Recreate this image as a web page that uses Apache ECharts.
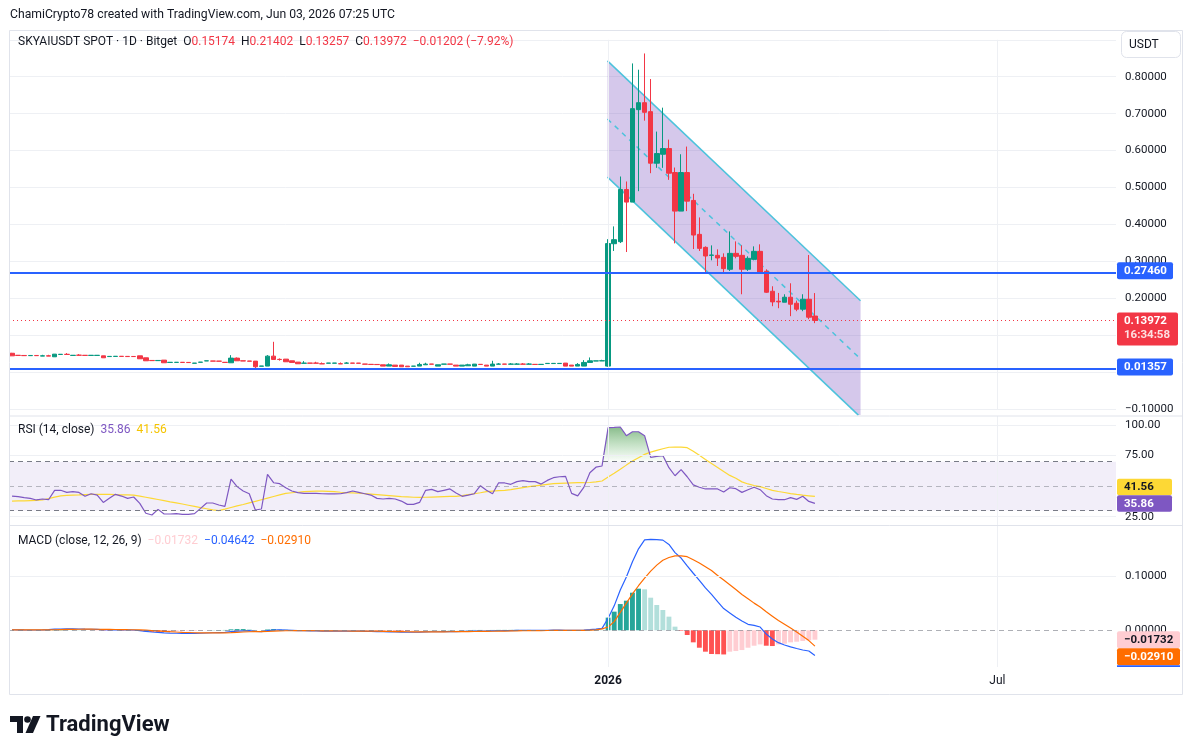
<!DOCTYPE html>
<html>
<head>
<meta charset="utf-8">
<script src="https://cdn.jsdelivr.net/npm/echarts@6/dist/echarts.min.js"></script>
<style>
  html, body { margin: 0; padding: 0; background: #fff; }
  #chart { width: 1195px; height: 755px; }
</style>
</head>
<body>
<div id="chart"></div>
<script>
const FONT = 'Roboto, "Noto Sans", sans-serif'
const INK = '#131722'
const SLOTS = 182 // bars that fit the visible time range (incl. empty right side)

// time axis labels (bar index -> text)
const tickIndex = [98, 162]
const tickText = ['2026', 'Jul']

// daily candles [open, close, low, high]
const candles = [
  [0.051, 0.044, 0.044, 0.052], [0.0455, 0.045, 0.045, 0.0455], [0.045, 0.0445, 0.0445, 0.045], [0.0445, 0.045, 0.0445, 0.045],
  [0.045, 0.0445, 0.0445, 0.045], [0.0433, 0.0441, 0.0433, 0.0468], [0.0441, 0.0433, 0.0433, 0.0468], [0.0414, 0.0486, 0.0414, 0.0486],
  [0.0477, 0.0482, 0.0477, 0.0482], [0.0482, 0.0477, 0.0477, 0.0514], [0.045, 0.0455, 0.045, 0.0455], [0.0459, 0.0455, 0.045, 0.0486],
  [0.0455, 0.045, 0.045, 0.0455], [0.045, 0.0455, 0.045, 0.0455], [0.045, 0.0455, 0.045, 0.0455], [0.0441, 0.0387, 0.0387, 0.0441],
  [0.042, 0.0425, 0.042, 0.0425], [0.0423, 0.0428, 0.0423, 0.0428], [0.0428, 0.0423, 0.0423, 0.0428], [0.0425, 0.042, 0.042, 0.0425],
  [0.0423, 0.042, 0.042, 0.0423], [0.0441, 0.036, 0.036, 0.0441], [0.0387, 0.0306, 0.0306, 0.0387], [0.0315, 0.031, 0.031, 0.0315],
  [0.031, 0.0315, 0.031, 0.0315], [0.0324, 0.0252, 0.0252, 0.0324], [0.026, 0.0265, 0.026, 0.0265], [0.0262, 0.0265, 0.0262, 0.0265],
  [0.0265, 0.026, 0.026, 0.0265], [0.0262, 0.0258, 0.0258, 0.0262], [0.0238, 0.0243, 0.0238, 0.0243], [0.0265, 0.027, 0.0265, 0.027],
  [0.0302, 0.0306, 0.0302, 0.0306], [0.03, 0.0297, 0.0297, 0.03], [0.0297, 0.0294, 0.0294, 0.0297], [0.0265, 0.026, 0.026, 0.0265],
  [0.0252, 0.0378, 0.0252, 0.0459], [0.0378, 0.0306, 0.0306, 0.0396], [0.0306, 0.03, 0.03, 0.0306], [0.03, 0.0294, 0.0294, 0.03],
  [0.0297, 0.0144, 0.0081, 0.0297], [0.0158, 0.0165, 0.0158, 0.0165], [0.0162, 0.0432, 0.0162, 0.0459], [0.0432, 0.0342, 0.0342, 0.082],
  [0.0345, 0.034, 0.031, 0.037], [0.0351, 0.0279, 0.0279, 0.0351], [0.0306, 0.0261, 0.0261, 0.0306], [0.027, 0.0225, 0.0225, 0.027],
  [0.0238, 0.0243, 0.0238, 0.0297], [0.0245, 0.024, 0.024, 0.0245], [0.0245, 0.024, 0.024, 0.0279], [0.0227, 0.0222, 0.0222, 0.0261],
  [0.024, 0.0245, 0.024, 0.0245], [0.024, 0.0245, 0.024, 0.0245], [0.0227, 0.0222, 0.0222, 0.0261], [0.024, 0.0245, 0.024, 0.027],
  [0.0245, 0.024, 0.024, 0.0245], [0.0243, 0.0238, 0.0238, 0.0243], [0.0218, 0.0213, 0.0213, 0.0218], [0.021, 0.0205, 0.0205, 0.021],
  [0.0207, 0.0203, 0.0203, 0.0207], [0.0198, 0.0162, 0.0162, 0.0198], [0.0162, 0.0198, 0.0162, 0.0234], [0.0189, 0.0153, 0.0153, 0.0189],
  [0.0189, 0.0144, 0.0144, 0.0189], [0.0162, 0.0144, 0.0144, 0.0162], [0.0158, 0.0162, 0.0158, 0.0162], [0.0162, 0.0207, 0.0162, 0.0252],
  [0.0198, 0.0216, 0.0198, 0.0252], [0.0218, 0.0213, 0.0213, 0.0218], [0.0162, 0.0198, 0.0162, 0.0198], [0.0213, 0.0218, 0.0213, 0.0218],
  [0.0218, 0.0213, 0.0213, 0.0218], [0.0189, 0.0162, 0.0162, 0.0189], [0.0162, 0.0189, 0.0162, 0.0189], [0.0171, 0.0198, 0.0171, 0.0225],
  [0.0162, 0.0216, 0.0162, 0.0216], [0.021, 0.0205, 0.0205, 0.021], [0.0189, 0.0162, 0.0162, 0.0189], [0.0162, 0.0216, 0.0162, 0.0306],
  [0.0213, 0.0218, 0.0213, 0.0243], [0.0218, 0.0213, 0.0213, 0.0218], [0.0213, 0.0218, 0.0213, 0.0243], [0.0213, 0.0218, 0.0213, 0.0243],
  [0.0218, 0.0213, 0.0213, 0.0243], [0.0213, 0.0218, 0.0213, 0.0243], [0.021, 0.0205, 0.0205, 0.021], [0.0205, 0.021, 0.0205, 0.021],
  [0.0231, 0.0236, 0.0231, 0.0236], [0.0231, 0.0236, 0.0231, 0.0236], [0.0231, 0.0236, 0.0231, 0.0236], [0.0243, 0.0162, 0.0162, 0.0243],
  [0.0189, 0.0162, 0.0162, 0.0189], [0.0162, 0.0207, 0.0162, 0.0243], [0.0162, 0.0261, 0.0162, 0.0324], [0.0261, 0.0306, 0.0261, 0.0396],
  [0.03, 0.0304, 0.03, 0.0304], [0.0303, 0.0308, 0.0303, 0.0333],
  [0.0162, 0.348, 0.0144, 0.36], [0.3477, 0.3586, 0.328, 0.3946], [0.3532, 0.4946, 0.3495, 0.5297], [0.4946, 0.4604, 0.3252, 0.5162],
  [0.4604, 0.7135, 0.4604, 0.836], [0.7108, 0.7297, 0.49, 0.819], [0.7297, 0.7036, 0.681, 0.863], [0.7054, 0.5658, 0.5387, 0.7937],
  [0.5658, 0.5919, 0.5532, 0.6514], [0.59, 0.6054, 0.5532, 0.7162], [0.6054, 0.5387, 0.5207, 0.6297], [0.5405, 0.436, 0.3486, 0.554],
  [0.436, 0.5405, 0.436, 0.59], [0.5405, 0.463, 0.436, 0.6108], [0.4649, 0.3712, 0.3333, 0.4829], [0.373, 0.3351, 0.328, 0.4189],
  [0.3378, 0.3144, 0.2712, 0.3405], [0.3162, 0.3171, 0.3027, 0.3432], [0.3162, 0.309, 0.2874, 0.3324], [0.3108, 0.2802, 0.2685, 0.3216],
  [0.2784, 0.3216, 0.2739, 0.381], [0.3216, 0.3135, 0.3081, 0.354], [0.3162, 0.2784, 0.2108, 0.3432], [0.2784, 0.3081, 0.2739, 0.3135],
  [0.3054, 0.327, 0.3027, 0.3405], [0.327, 0.2712, 0.2685, 0.346], [0.273, 0.2162, 0.2144, 0.2784], [0.2189, 0.1901, 0.1784, 0.2324],
  [0.1919, 0.1901, 0.173, 0.2144], [0.1892, 0.2027, 0.1892, 0.2108], [0.2027, 0.1838, 0.1514, 0.2405], [0.1865, 0.1703, 0.1649, 0.1937],
  [0.1703, 0.1973, 0.1649, 0.2108], [0.1973, 0.1486, 0.1432, 0.3171], [0.15174, 0.13972, 0.13257, 0.21402]
]

// RSI (14, close) and its moving average
const rsi = [
  41.9, 41.4, 40.6, 40.0, 38.7, 39.5, 38.9, 46.5, 46.6, 44.9,
  45.5, 44.9, 41.7, 43.8, 42.7, 36.7, 40.0, 43.3, 41.9, 40.0,
  41.1, 35.9, 27.8, 26.4, 31.0, 27.2, 27.2, 27.5, 26.9, 26.9,
  27.5, 31.8, 36.2, 36.2, 34.6, 33.5, 55.8, 49.6, 46.0, 43.8,
  30.5, 31.3, 59.6, 52.8, 52.0, 48.7, 46.0, 44.7, 44.1, 44.1,
  44.1, 43.8, 43.6, 43.6, 43.8, 44.7, 46.0, 44.9, 43.8, 42.7,
  40.0, 39.5, 40.0, 39.5, 37.8, 35.1, 35.1, 36.7, 46.6, 47.4,
  45.5, 46.6, 47.7, 44.4, 41.7, 42.7, 43.8, 50.4, 46.6, 43.8,
  52.8, 52.6, 51.5, 53.7, 54.5, 53.7, 53.7, 51.7, 54.7, 56.9,
  57.7, 58.0, 44.1, 42.0, 49.0, 61.0, 65.5, 66.5, 97.8, 98.0,
  98.4, 91.3, 94.5, 94.5, 91.3, 73.6, 74.4, 75.0, 65.1, 58.5,
  63.5, 57.7, 51.0, 49.1, 47.7, 47.7, 47.7, 45.2, 48.7, 47.9,
  44.9, 47.1, 49.1, 47.1, 42.2, 39.5, 38.9, 38.9, 40.6, 39.2,
  41.7, 37.5, 35.86
]
const rsiMa = [
  37.8, 37.9, 38.0, 38.2, 38.4, 38.7, 39.8, 41.0, 42.0, 42.5,
  42.7, 42.8, 43.0, 43.2, 43.3, 43.3, 43.2, 43.0, 42.9, 42.8,
  42.7, 41.8, 40.9, 40.0, 39.1, 38.2, 37.2, 36.3, 35.4, 34.4,
  33.4, 32.4, 31.5, 30.6, 30.0, 31.2, 32.5, 33.8, 35.0, 36.3,
  37.6, 38.9, 40.2, 41.5, 42.8, 44.1, 44.6, 45.0, 45.5, 45.8,
  46.0, 46.0, 45.8, 45.5, 45.0, 44.7, 44.5, 44.2, 43.9, 43.5,
  43.1, 42.7, 42.3, 41.9, 41.5, 41.2, 40.9, 40.8, 40.9, 41.1,
  41.3, 41.5, 41.6, 41.7, 42.2, 43.0, 43.8, 44.6, 45.5, 46.0,
  46.3, 46.6, 47.2, 48.0, 48.8, 49.6, 50.3, 50.9, 51.5, 52.0,
  52.3, 52.5, 52.7, 52.8, 52.8, 53.0, 53.5, 54.2, 57.5, 60.5,
  63.8, 67.2, 70.5, 73.3, 76.0, 77.8, 79.3, 80.6, 81.8, 82.0,
  82.0, 81.5, 78.5, 75.2, 71.8, 68.6, 65.3, 62.0, 58.8, 56.5,
  53.5, 51.8, 50.5, 49.6, 48.1, 46.5, 45.6, 44.8, 43.9, 43.2,
  42.6, 42.1, 41.56
]

// MACD (close, 12, 26, 9)
const macdLine = [
  0.0010, 0.0008, 0.0006, 0.0005, 0.0005, 0.0008, 0.0012, 0.0020, 0.0024, 0.0026,
  0.0025, 0.0024, 0.0021, 0.0019, 0.0017, 0.0010, 0.0008, 0.0008, 0.0007, 0.0006,
  0.0005, -0.0005, -0.0020, -0.0032, -0.0040, -0.0048, -0.0052, -0.0055, -0.0057, -0.0058,
  -0.0058, -0.0055, -0.0050, -0.0045, -0.0042, -0.0040, -0.0025, -0.0015, -0.0010, -0.0008,
  -0.0020, -0.0025, -0.0008, 0.0005, 0.0008, 0.0005, 0.0000, -0.0005, -0.0008, -0.0010,
  -0.0012, -0.0014, -0.0014, -0.0015, -0.0016, -0.0015, -0.0016, -0.0017, -0.0019, -0.0021,
  -0.0023, -0.0027, -0.0028, -0.0031, -0.0034, -0.0036, -0.0036, -0.0033, -0.0029, -0.0027,
  -0.0027, -0.0024, -0.0022, -0.0023, -0.0021, -0.0019, -0.0016, -0.0015, -0.0016, -0.0012,
  -0.0009, -0.0007, -0.0005, -0.0003, -0.0002, -0.0001, -0.0001, -0.0001, 0.0001, 0.0002,
  0.0003, 0.0000, -0.0002, -0.0001, 0.0004, 0.0012, 0.0022, 0.0036,
  0.0221, 0.0450, 0.0740, 0.0980, 0.1260, 0.1500, 0.1665, 0.1672, 0.1668, 0.1660,
  0.1580, 0.1430, 0.1330, 0.1185, 0.1050, 0.0920, 0.0780, 0.0660, 0.0527, 0.0400,
  0.0320, 0.0240, 0.0170, 0.0110, 0.0090, 0.0060, -0.0070, -0.0160, -0.0228, -0.0270,
  -0.0305, -0.0335, -0.0363, -0.0381, -0.04642
]
const signalLine = [
  0.0009, 0.0009, 0.0008, 0.0008, 0.0007, 0.0007, 0.0008, 0.0010, 0.0013, 0.0016,
  0.0018, 0.0019, 0.0020, 0.0020, 0.0019, 0.0018, 0.0016, 0.0014, 0.0013, 0.0011,
  0.0010, 0.0007, 0.0002, -0.0005, -0.0012, -0.0019, -0.0026, -0.0032, -0.0037, -0.0041,
  -0.0045, -0.0047, -0.0048, -0.0048, -0.0047, -0.0046, -0.0042, -0.0037, -0.0032, -0.0027,
  -0.0026, -0.0026, -0.0022, -0.0017, -0.0012, -0.0009, -0.0007, -0.0007, -0.0007, -0.0008,
  -0.0009, -0.0010, -0.0011, -0.0012, -0.0013, -0.0013, -0.0014, -0.0014, -0.0015, -0.0016,
  -0.0017, -0.0019, -0.0021, -0.0023, -0.0025, -0.0027, -0.0029, -0.0030, -0.0030, -0.0029,
  -0.0029, -0.0028, -0.0027, -0.0026, -0.0025, -0.0024, -0.0022, -0.0021, -0.0020, -0.0018,
  -0.0016, -0.0014, -0.0012, -0.0010, -0.0008, -0.0007, -0.0006, -0.0005, -0.0004, -0.0003,
  -0.0002, -0.0001, -0.0001, -0.0001, 0.0000, 0.0002, 0.0006, 0.0025,
  0.0060, 0.0160, 0.0330, 0.0500, 0.0670, 0.0820, 0.0960, 0.1090, 0.1200, 0.1290,
  0.1340, 0.1370, 0.1370, 0.1355, 0.1300, 0.1240, 0.1170, 0.1100, 0.1010, 0.0926,
  0.0840, 0.0750, 0.0660, 0.0580, 0.0500, 0.0430, 0.0340, 0.0260, 0.0180, 0.0110,
  0.0040, -0.0030, -0.0110, -0.0190, -0.0291
]
const macdHist = [
  0.0001, -0.0001, -0.0002, -0.0003, -0.0002, 0.0001, 0.0004, 0.0010, 0.0011, 0.0010,
  0.0007, 0.0005, 0.0001, -0.0001, -0.0002, -0.0008, -0.0008, -0.0006, -0.0006, -0.0005,
  -0.0005, -0.0012, -0.0022, -0.0027, -0.0028, -0.0029, -0.0026, -0.0023, -0.0020, -0.0017,
  -0.0013, -0.0008, -0.0002, 0.0003, 0.0005, 0.0006, 0.0017, 0.0022, 0.0022, 0.0019,
  0.0006, 0.0001, 0.0014, 0.0022, 0.0020, 0.0014, 0.0007, 0.0002, -0.0001, -0.0002,
  -0.0003, -0.0004, -0.0003, -0.0003, -0.0003, -0.0002, -0.0002, -0.0003, -0.0004, -0.0005,
  -0.0006, -0.0008, -0.0007, -0.0008, -0.0009, -0.0009, -0.0007, -0.0003, 0.0001, 0.0002,
  0.0002, 0.0004, 0.0005, 0.0003, 0.0004, 0.0005, 0.0006, 0.0006, 0.0004, 0.0006,
  0.0007, 0.0007, 0.0007, 0.0007, 0.0006, 0.0006, 0.0005, 0.0004, 0.0005, 0.0005,
  0.0005, 0.0001, -0.0001, 0.0000, 0.0004, 0.0010, 0.0016, 0.0011,
  0.0233, 0.0343, 0.0483, 0.0545, 0.0692, 0.0766, 0.0754, 0.0600, 0.0466, 0.0374,
  0.0251, 0.0067, -0.0010, -0.0087, -0.0222, -0.0321, -0.0394, -0.0437, -0.0440, -0.0445,
  -0.0394, -0.0382, -0.0364, -0.0321, -0.0284, -0.0260, -0.0284, -0.0290, -0.0260, -0.0247,
  -0.0222, -0.0210, -0.0197, -0.0185, -0.01732
]

// horizontal levels drawn on the chart
const levelLines = [0.2746, 0.01357]
const countdown = '16:34:58'

// descending parallel channel (bar index, price)
const chanX = [97.9, 139.5]
const chanTop = [0.843, 0.193]
const chanMid = [0.6855, 0.0355]
const chanBot = [0.528, -0.122]
const paneFloor = -0.1165 // lowest price visible in the price pane

const last = candles[candles.length - 1]
const cats = Array.from({ length: SLOTS }, (_, i) => String(i))

// overbought fill (RSI above 70)
const obBase = rsi.map((v, i) => (i >= 97 && i <= 108 ? 70 : '-'))
const obFill = rsi.map((v, i) => (i >= 97 && i <= 108 ? Math.max(0, v - 70) : '-'))

const faint = '#eef0f4'
const vGrid = tickIndex.map(i => ({ xAxis: i }))

function fmtSigned(v, d) {
  return (v < -1e-9 ? '\u2212' : '') + Math.abs(v).toFixed(d)
}

const chart = echarts.init(document.getElementById('chart'))

const axisText = { color: INK, fontSize: 11.5, fontFamily: FONT }
const option = {
  animation: false,
  backgroundColor: '#fff',
  textStyle: { fontFamily: FONT },
  grid: [
    { left: 9, width: 1107, top: 39.8, height: 369.2, outerBoundsMode: 'none' },
    { left: 9, width: 1107, top: 416.1, height: 108.8, outerBoundsMode: 'none' },
    { left: 9, width: 1107, top: 526, height: 141, outerBoundsMode: 'none' }
  ],
  xAxis: [
    { type: 'category', gridIndex: 0, data: cats, axisLine: { show: false }, axisTick: { show: false }, axisLabel: { show: false }, splitLine: { show: false } },
    { type: 'category', gridIndex: 1, data: cats, axisLine: { show: false }, axisTick: { show: false }, axisLabel: { show: false }, splitLine: { show: false } },
    {
      type: 'category', gridIndex: 2, data: cats,
      axisLine: { show: false }, axisTick: { show: false }, splitLine: { show: false },
      axisLabel: {
        margin: 8,
        interval: (i) => tickIndex.includes(i),
        formatter: (v, i) => {
          const k = tickIndex.indexOf(i)
          if (k < 0) return ''
          return k === 0 ? '{b|' + tickText[k] + '}' : tickText[k]
        },
        color: INK, fontSize: 12, fontFamily: FONT,
        rich: { b: { fontWeight: 'bold', fontSize: 12, color: INK, fontFamily: FONT } }
      }
    },
    { type: 'value', gridIndex: 0, min: -0.5, max: SLOTS - 0.5, show: false }
  ],
  yAxis: [
    {
      type: 'value', gridIndex: 0, position: 'right', min: -0.1, max: 0.9, interval: 0.1,
      axisLine: { show: false }, axisTick: { show: false },
      axisLabel: Object.assign({ margin: 9, showMaxLabel: false, formatter: v => fmtSigned(v, 5) }, axisText),
      splitLine: { lineStyle: { color: faint } }
    },
    {
      type: 'value', gridIndex: 1, position: 'right', min: 18.3, max: 107.3,
      axisLine: { show: false }, axisTick: { show: false }, splitLine: { show: false },
      axisLabel: Object.assign({ margin: 9, customValues: [25, 75, 100], formatter: v => v.toFixed(2) }, axisText)
    },
    {
      type: 'value', gridIndex: 2, position: 'right', min: -0.0676, max: 0.192,
      axisLine: { show: false }, axisTick: { show: false }, splitLine: { show: false },
      axisLabel: Object.assign({ margin: 9, customValues: [0, 0.1], formatter: v => fmtSigned(v, 5) }, axisText)
    }
  ],
  series: [
    {
      type: 'custom', name: 'channel', xAxisIndex: 3, yAxisIndex: 0, z: 1, clip: false, silent: true,
      data: [[chanX[0], chanTop[0]]],
      renderItem: (params, api) => {
        const pt = (x, y) => api.coord([x, y])
        const slope = (chanBot[1] - chanBot[0]) / (chanX[1] - chanX[0])
        let lowEnd
        let poly
        if (chanBot[1] >= paneFloor) {
          lowEnd = pt(chanX[1], chanBot[1])
          poly = [pt(chanX[0], chanTop[0]), pt(chanX[1], chanTop[1]), lowEnd, pt(chanX[0], chanBot[0])]
        } else {
          const xHit = chanX[0] + (paneFloor - chanBot[0]) / slope
          lowEnd = pt(xHit, paneFloor)
          poly = [pt(chanX[0], chanTop[0]), pt(chanX[1], chanTop[1]), pt(chanX[1], paneFloor), lowEnd, pt(chanX[0], chanBot[0])]
        }
        const a = pt(chanX[0], chanTop[0]), b = pt(chanX[1], chanTop[1])
        const c = pt(chanX[0], chanBot[0])
        const m0 = pt(chanX[0], chanMid[0]), m1 = pt(chanX[1], chanMid[1])
        const stroke = '#4cc3dc'
        return {
          type: 'group',
          children: [
            { type: 'polygon', shape: { points: poly }, style: { fill: 'rgba(126,87,194,0.33)' } },
            { type: 'line', shape: { x1: a[0], y1: a[1], x2: b[0], y2: b[1] }, style: { stroke, lineWidth: 1.5 } },
            { type: 'line', shape: { x1: c[0], y1: c[1], x2: lowEnd[0], y2: lowEnd[1] }, style: { stroke, lineWidth: 1.5 } },
            { type: 'line', shape: { x1: m0[0], y1: m0[1], x2: m1[0], y2: m1[1] }, style: { stroke, lineWidth: 1.5, lineDash: [5, 5] } }
          ]
        }
      }
    },
    {
      type: 'candlestick', name: 'SKYAIUSDT', xAxisIndex: 0, yAxisIndex: 0, z: 3,
      barWidth: 5,
      data: candles,
      itemStyle: { color: '#089981', color0: '#f23645', borderColor: '#089981', borderColor0: '#f23645', borderWidth: 1 },
      markLine: {
        silent: true, symbol: 'none', label: { show: false }, animation: false,
        data: [
          ...vGrid.map(d => Object.assign({ lineStyle: { color: faint, width: 1, type: 'solid' } }, d)),
          ...levelLines.map(v => ({ yAxis: v, lineStyle: { color: '#2962ff', width: 2, type: 'solid' } })),
          { yAxis: last[1], lineStyle: { color: '#f23645', width: 1, type: [1, 3] } }
        ]
      }
    },
    {
      type: 'line', name: 'RSI', xAxisIndex: 1, yAxisIndex: 1, data: rsi, symbol: 'none', z: 4,
      lineStyle: { color: '#7e57c2', width: 1.2 },
      markArea: { silent: true, itemStyle: { color: 'rgba(126,87,194,0.1)' }, data: [[{ yAxis: 30 }, { yAxis: 70 }]] },
      markLine: {
        silent: true, symbol: 'none', label: { show: false },
        data: [
          ...vGrid.map(d => Object.assign({ lineStyle: { color: faint, width: 1, type: 'solid' } }, d)),
          ...[100, 75, 25].map(v => ({ yAxis: v, lineStyle: { color: faint, width: 1, type: 'solid' } })),
          { yAxis: 70, lineStyle: { color: '#787b86', width: 1, type: [5, 4] } },
          { yAxis: 50, lineStyle: { color: 'rgba(120,123,134,0.5)', width: 1, type: [5, 4] } },
          { yAxis: 30, lineStyle: { color: '#787b86', width: 1, type: [5, 4] } }
        ]
      }
    },
    {
      type: 'line', name: 'obBase', xAxisIndex: 1, yAxisIndex: 1, data: obBase, stack: 'ob', symbol: 'none', z: 2,
      lineStyle: { opacity: 0 }, silent: true
    },
    {
      type: 'line', name: 'obFill', xAxisIndex: 1, yAxisIndex: 1, data: obFill, stack: 'ob', symbol: 'none', z: 2,
      lineStyle: { opacity: 0 }, silent: true,
      areaStyle: {
        color: new echarts.graphic.LinearGradient(0, 0, 0, 1, [
          { offset: 0, color: 'rgba(56,142,60,0.85)' },
          { offset: 1, color: 'rgba(76,175,80,0.03)' }
        ])
      }
    },
    {
      type: 'line', name: 'RSI MA', xAxisIndex: 1, yAxisIndex: 1, data: rsiMa, symbol: 'none', z: 3,
      lineStyle: { color: '#fdd835', width: 1.2 }
    },
    {
      type: 'bar', name: 'Histogram', xAxisIndex: 2, yAxisIndex: 2, data: macdHist, barWidth: '80%', z: 2,
      itemStyle: {
        color: p => {
          const v = macdHist[p.dataIndex]
          const prev = p.dataIndex > 0 ? macdHist[p.dataIndex - 1] : 0
          if (v >= 0) return v >= prev ? '#26a69a' : '#b2dfdb'
          return v <= prev ? '#ff5252' : '#ffcdd2'
        }
      },
      markLine: {
        silent: true, symbol: 'none', label: { show: false },
        data: [
          ...vGrid.map(d => Object.assign({ lineStyle: { color: faint, width: 1, type: 'solid' } }, d)),
          { yAxis: 0.1, lineStyle: { color: faint, width: 1, type: 'solid' } },
          { yAxis: 0, lineStyle: { color: 'rgba(120,123,134,0.6)', width: 1, type: [5, 4] } }
        ]
      }
    },
    { type: 'line', name: 'MACD', xAxisIndex: 2, yAxisIndex: 2, data: macdLine, symbol: 'none', z: 3, lineStyle: { color: '#2962ff', width: 1.2 } },
    { type: 'line', name: 'Signal', xAxisIndex: 2, yAxisIndex: 2, data: signalLine, symbol: 'none', z: 3, lineStyle: { color: '#ff6d00', width: 1.2 } }
  ]
}
chart.setOption(option)

// ---- overlay: frame, legends, scale badges, logo ----
function label(x, y, text, extra) {
  return {
    type: 'text', x, y, z: 100,
    style: Object.assign({ text, fill: INK, fontSize: 12, fontFamily: FONT, textVerticalAlign: 'middle' }, extra || {})
  }
}
function badge(x, yc, w, h, bg, text, color) {
  return [
    { type: 'rect', z: 100, shape: { x, y: yc - h / 2, width: w, height: h, r: 2 }, style: { fill: bg } },
    label(x + 7, yc + 0.5, text, { fill: color, fontWeight: 'bold', fontSize: 11.5 })
  ]
}

const py = v => chart.convertToPixel({ yAxisIndex: 0 }, v)
const ry = v => chart.convertToPixel({ yAxisIndex: 1 }, v)
const my = v => chart.convertToPixel({ yAxisIndex: 2 }, v)

const lastRsi = rsi[rsi.length - 1], lastMa = rsiMa[rsiMa.length - 1]
const lastHist = macdHist[macdHist.length - 1], lastMacd = macdLine[macdLine.length - 1], lastSig = signalLine[signalLine.length - 1]

const g = []
// frame and pane separators
g.push({ type: 'rect', z: 90, shape: { x: 9.5, y: 30.5, width: 1173, height: 664 }, style: { fill: 'none', stroke: '#e0e3eb', lineWidth: 1 } })
g.push({ type: 'line', z: 90, shape: { x1: 9.5, y1: 416, x2: 1182.5, y2: 416 }, style: { stroke: '#e0e3eb', lineWidth: 1 } })
g.push({ type: 'line', z: 90, shape: { x1: 9.5, y1: 525.5, x2: 1182.5, y2: 525.5 }, style: { stroke: '#e0e3eb', lineWidth: 1 } })

// header and legends
const leg = { fontSize: 12, fontFamily: FONT }
g.push(label(10, 15, 'ChamiCrypto78 created with TradingView.com, Jun 03, 2026 07:25 UTC', { fontSize: 12.2 }))
g.push(label(18, 42,
  'SKYAIUSDT SPOT \u00b7 1D \u00b7 Bitget  O{r|' + last[0].toFixed(5) + '}  H{r|' + last[3].toFixed(5) +
  '}  L{r|' + last[2].toFixed(5) + '}  C{r|' + last[1].toFixed(5) + '}  {r|\u22120.01202 (\u22127.92%)}',
  { rich: { r: Object.assign({ fill: '#f23645' }, leg) } }))
g.push(label(18, 430, 'RSI (14, close)  {p|' + lastRsi.toFixed(2) + '}  {y|' + lastMa.toFixed(2) + '}', {
  rich: { p: Object.assign({ fill: '#7e57c2' }, leg), y: Object.assign({ fill: '#f5c400' }, leg) }
}))
g.push(label(18, 541, 'MACD (close, 12, 26, 9)  {k|' + fmtSigned(lastHist, 5) + '}  {b|' + fmtSigned(lastMacd, 5) + '}  {o|' + fmtSigned(lastSig, 5) + '}', {
  rich: {
    k: Object.assign({ fill: '#ffcdd2' }, leg),
    b: Object.assign({ fill: '#2962ff' }, leg),
    o: Object.assign({ fill: '#ff6d00' }, leg)
  }
}))

// currency button
g.push({ type: 'rect', z: 100, shape: { x: 1121.5, y: 31.5, width: 59, height: 26, r: 5 }, style: { fill: '#fff', stroke: '#e0e3eb' } })
g.push(label(1129, 45, 'USDT'))

// price scale badges
g.push(...badge(1117, py(levelLines[0]), 56, 17, '#2962ff', levelLines[0].toFixed(5), '#fff'))
g.push(...badge(1117, py(levelLines[1]), 56, 17, '#2962ff', levelLines[1].toFixed(5), '#fff'))
const yLast = py(last[1])
g.push({ type: 'rect', z: 100, shape: { x: 1117, y: yLast - 8, width: 61, height: 33, r: 2 }, style: { fill: '#f23645' } })
g.push(label(1124, yLast + 0.5, last[1].toFixed(5), { fill: '#fff', fontWeight: 'bold', fontSize: 11.5 }))
g.push(label(1124, yLast + 15, countdown, { fill: 'rgba(255,255,255,0.85)', fontWeight: 'bold', fontSize: 11.5 }))

// RSI badges (MA badge pushed above the RSI badge)
const yR = ry(lastRsi)
const yM = Math.min(ry(lastMa), yR - 16.5)
g.push(...badge(1117, yM, 55, 16.5, '#fdd835', lastMa.toFixed(2), INK))
g.push(...badge(1117, yR, 55, 16.5, '#7e57c2', lastRsi.toFixed(2), '#fff'))

// MACD badges (stacked downward, clipped at pane bottom)
const yH = my(lastHist)
const yS = Math.max(my(lastSig), yH + 17)
g.push(...badge(1117, yH, 63, 17, '#ffcdd2', fmtSigned(lastHist, 5), INK))
g.push(...badge(1117, yS, 63, 17, '#ff6d00', fmtSigned(lastSig, 5), '#fff'))
const blueTop = yS + 8.5
g.push({ type: 'rect', z: 100, shape: { x: 1117, y: blueTop, width: 63, height: Math.max(0, 667 - blueTop) }, style: { fill: '#2962ff' } })

// TradingView logo
g.push({ type: 'polygon', z: 100, shape: { points: [[10, 716], [23, 716], [23, 733], [17, 733], [17, 722], [10, 722]] }, style: { fill: INK } })
g.push({ type: 'circle', z: 100, shape: { cx: 27.5, cy: 719.5, r: 3.3 }, style: { fill: INK } })
g.push({ type: 'polygon', z: 100, shape: { points: [[33, 716], [40.5, 716], [33, 733], [25.5, 733]] }, style: { fill: INK } })
g.push(label(46, 725, 'TradingView', { fontSize: 22, fontWeight: 'bold' }))

chart.setOption({ graphic: { elements: g } })
</script>
</body>
</html>
